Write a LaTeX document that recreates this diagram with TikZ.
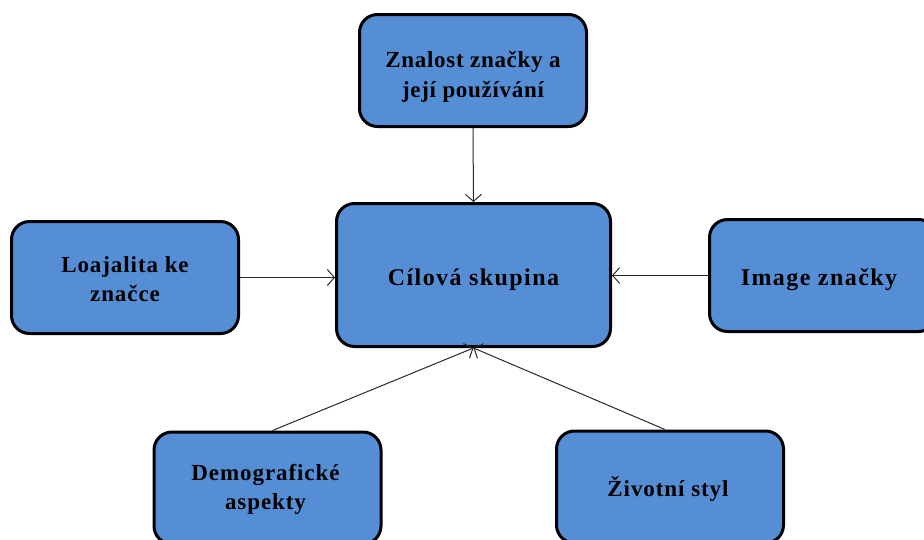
\documentclass[tikz,border=0pt]{standalone}
\usepackage{fontspec}
\setmainfont{Liberation Serif}
\usetikzlibrary{arrows.meta}
\definecolor{boxblue}{RGB}{85,142,213}
\definecolor{linkgray}{RGB}{40,40,40}
\begin{document}
\begin{tikzpicture}[x=1pt,y=-1pt,
  box/.style={draw=black, line width=3pt, fill=boxblue, rounded corners=18pt,
    minimum width=227pt, minimum height=112pt},
  txt/.style={align=center, inner sep=0pt,
    font=\fontsize{23}{29}\selectfont\bfseries\addfontfeatures{LetterSpace=4}},
  toptxt/.style={txt, font=\fontsize{23}{30}\selectfont\bfseries\addfontfeatures{LetterSpace=3}},
  bigtxt/.style={txt, font=\fontsize{24}{29}\selectfont\bfseries\addfontfeatures{LetterSpace=6}},
  link/.style={draw=linkgray, line width=1pt, -{Straight Barb[length=7pt,width=16pt,line width=1pt]}}]
\useasboundingbox (0,0) rectangle (924,539);
\clip (0,0) rectangle (924,539);
\node[box] (top) at (473,70.5) {};
\node[box, minimum width=274pt, minimum height=143pt] (mid) at (473.5,275) {};
\node[box] (left) at (125,277.5) {};
\node[box] (right) at (823,275.5) {};
\node[box] (bl) at (267.5,488) {};
\node[box] (br) at (670,487) {};
\node[toptxt] (topt) at ([yshift=-6pt]top.center) {Znalost značky a\\její používání};
\node[bigtxt] (midt) at ([yshift=-5pt]mid.center) {Cílová skupina};
\node[txt] (leftt) at ([yshift=-2pt]left.center) {Loajalita ke\\značce};
\node[bigtxt] (rightt) at ([yshift=-4pt,xshift=-4pt]right.center) {Image značky};
\node[txt] (blt) at ([yshift=-1pt,xshift=-2pt]bl.center) {Demografické\\aspekty};
\node[txt] (brt) at ([yshift=-2pt,xshift=-2pt]br.center) {Životní styl};
\draw[link] (top.south) -- (mid.north);
\draw[link] (left.east) -- (left.east -| mid.west);
\draw[link] (right.west) -- (right.west -| mid.east);
\draw[link] ([xshift=5pt]bl.north) -- (mid.south);
\draw[link] ([xshift=-5pt]br.north) -- (mid.south);
\end{tikzpicture}
\end{document}
